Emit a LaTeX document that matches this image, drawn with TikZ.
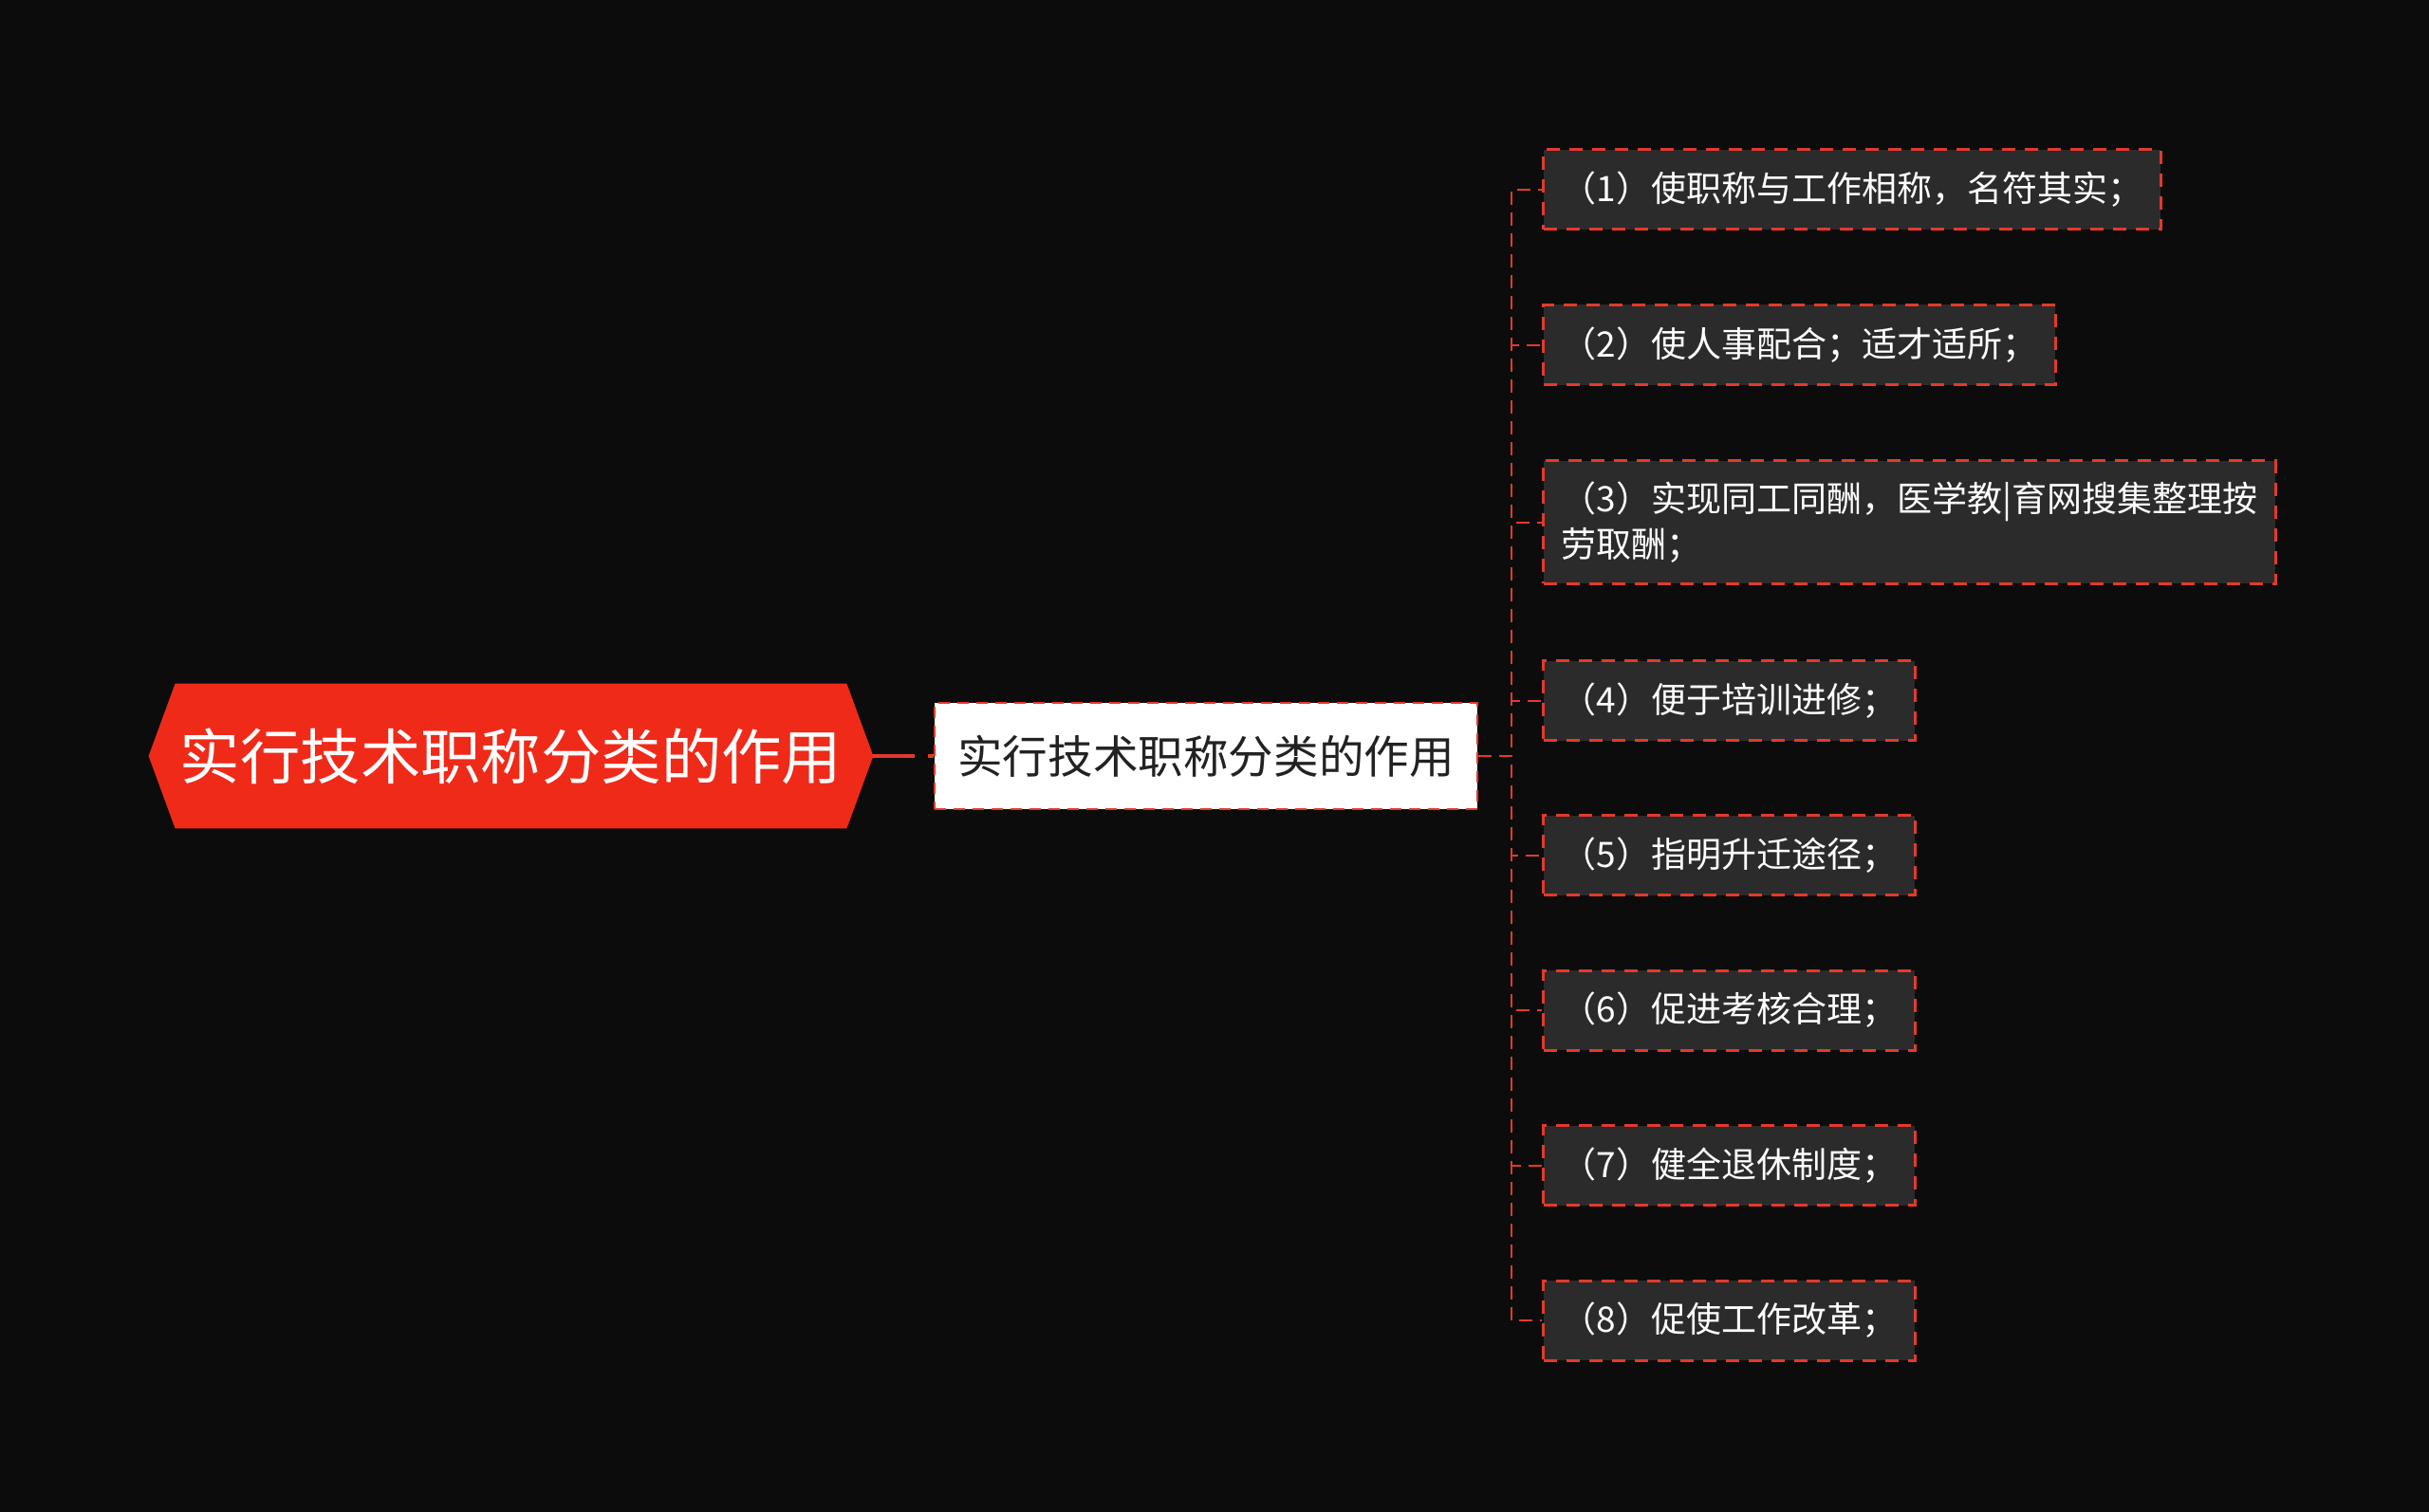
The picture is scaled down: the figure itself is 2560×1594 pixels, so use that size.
\documentclass[tikz,border=0pt]{standalone}
\usepackage{fontspec}
\setmainfont{Noto Sans CJK SC}
\usepackage{tikz}
\usetikzlibrary{positioning,backgrounds}
\definecolor{bgblack}{RGB}{12,12,12}
\definecolor{rootred}{RGB}{240,42,25}
\definecolor{linered}{RGB}{226,58,44}
\definecolor{leafgray}{RGB}{43,43,43}
\definecolor{midtext}{RGB}{34,34,34}

\begin{document}
\begin{tikzpicture}[x=0.5pt,y=-0.5pt,
        rootbox/.style={minimum width=353.5pt,minimum height=76pt,inner sep=0pt,
            text=white,font=\fontsize{31.7}{36}\selectfont},
        midbox/.style={draw=linered,fill=white,line width=1.2pt,dash pattern=on 6pt off 4pt,
            minimum width=286pt,minimum height=56pt,inner sep=0pt,text=midtext,
            font=\fontsize{23.8}{28}\selectfont},
        leafbox/.style={draw=linered,fill=leafgray,line width=1.5pt,dash pattern=on 7pt off 5pt,
            text=white,align=left,anchor=west,inner xsep=9.5pt,inner ysep=11pt,
            minimum height=42pt,font=\fontsize{18.5}{24}\selectfont},
        link/.style={draw=linered,line width=1pt,dash pattern=on 7pt off 4pt},
        rootlink/.style={draw=linered,line width=2pt,dash pattern=on 22pt off 7pt}]
    % Fondo y marco de la imagen
    \begin{scope}[on background layer]
        \fill[bgblack] (0,0) rectangle (2560,1594);
    \end{scope}
    \useasboundingbox (0,0) rectangle (2560,1594);
    % Nodo raiz y nodo intermedio
    \node[rootbox] (root) at (538.5,797) {实行技术职称分类的作用};
    \begin{scope}[on background layer]
        \fill[rootred] (root.north west) -- (root.north east) -- ([xshift=14pt]root.east)
            -- (root.south east) -- (root.south west) -- ([xshift=-14pt]root.west) -- cycle;
    \end{scope}
    \node[midbox] (mid) at (1271,797) {实行技术职称分类的作用};
    \draw[rootlink] ([xshift=14pt]root.east) -- (mid.west);
    % Hojas y conectores
    \foreach \y/\txt [count=\i] in {200/{（1）使职称与工作相称，名符其实；},
            363.5/{（2）使人事配合；适才适所；},
            550.5/{（3）实现同工同酬，医学教|育网搜集整理按\\劳取酬；},
            738.5/{（4）便于培训进修；},
            901.5/{（5）指明升迁途径；},
            1065/{（6）促进考核合理；},
            1228.5/{（7）健全退休制度；},
            1392/{（8）促使工作改革；}} {
        \node[leafbox] (leaf\i) at (1625,\y) {\txt};
        \draw[link] (mid.east) -- ++(35,0) |- (leaf\i.west);
    }
\end{tikzpicture}
\end{document}
